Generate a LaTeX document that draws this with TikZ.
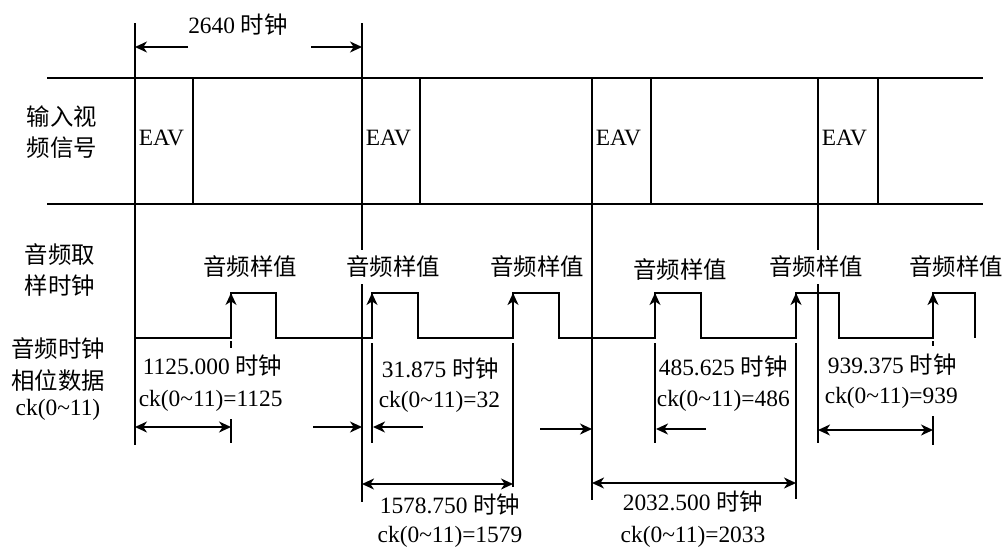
\documentclass[tikz,border=0pt]{standalone}
\usepackage{fontspec}
\setmainfont{Liberation Serif}
\newfontfamily\cjk{Noto Sans CJK SC}
\usetikzlibrary{arrows.meta}
\newcommand{\ckt}{ck(0\textasciitilde 11)}
\begin{document}
\begin{tikzpicture}[x=0.5pt,y=-0.5pt,line width=0.85pt,
  tipend/.style={-{Stealth[length=6pt,width=5.5pt,inset=1.8pt]}},
  dimboth/.style={{Stealth[length=6pt,width=5.5pt,inset=1.8pt]}-{Stealth[length=6pt,width=5.5pt,inset=1.8pt]}},
  txt/.style={font=\fontsize{11.7}{14}\selectfont,inner sep=1pt},
  cjktxt/.style={font=\fontsize{11.7}{15.5}\selectfont\cjk,inner sep=1pt,align=center},
  sample/.style={font=\fontsize{11.7}{14}\selectfont\cjk,fill=white,inner xsep=1pt,inner ysep=3pt},
]
\useasboundingbox (0,0) rectangle (1004,547);

% frame lines of the video signal
\coordinate (hl1a) at (47,78);  \coordinate (hl1b) at (983,78);
\coordinate (hl2a) at (47,204); \coordinate (hl2b) at (983,204);
\draw (hl1a) -- (hl1b);
\draw (hl2a) -- (hl2b);

% long vertical lines
\coordinate (v1t) at (135,23);  \coordinate (v1b) at (135,445);
\coordinate (v2t) at (362,23);  \coordinate (v2b) at (362,502);
\coordinate (v3t) at (592,78);  \coordinate (v3b) at (592,500);
\coordinate (v4t) at (818,78);  \coordinate (v4b) at (818,443);
\draw (v1t) -- (v1b);
\draw (v2t) -- (v2b);
\draw (v3t) -- (v3b);
\draw (v4t) -- (v4b);

% EAV right borders
\foreach \x/\n in {193/a,420/b,651/c,878/d}{
  \coordinate (e\n t) at (\x,78); \coordinate (e\n b) at (\x,204);
  \draw (e\n t) -- (e\n b);
}

% EAV labels
\node[txt,anchor=west] (eav1) at (136,138) {EAV};
\node[txt,anchor=west] (eav2) at (363,138) {EAV};
\node[txt,anchor=west] (eav3) at (593,138) {EAV};
\node[txt,anchor=west] (eav4) at (819,138) {EAV};

% 2640 clock dimension
\coordinate (d1a) at (188,47); \coordinate (d1b) at (311,47);
\draw[tipend] (d1a) -- (v1t |- d1a);
\draw[tipend] (d1b) -- (v2t |- d1b);
\node[txt] (t2640) at (238,25) {2640 {\cjk 时钟}};

% clock waveform
\draw (135,338) -- (231,338) -- (231,293) -- (276,293) -- (276,338)
  -- (372,338) -- (372,293) -- (418,293) -- (418,338)
  -- (513,338) -- (513,293) -- (559,293) -- (559,338)
  -- (655,338) -- (655,293) -- (701,293) -- (701,338)
  -- (796,338) -- (796,293) -- (839,293) -- (839,338)
  -- (933,338) -- (933,293) -- (975,293) -- (975,338);
\foreach \x in {231,372,513,655,796,933}{
  \draw[tipend] (\x,338) -- (\x,293);
}

% extension lines
\draw (231,341) -- (231,348);
\draw (231,419) -- (231,443);
\draw (933,341) -- (933,346);
\draw (933,416) -- (933,445);
\draw (372,343) -- (372,443);
\draw (513,343) -- (513,487);
\draw (655,343) -- (655,443);
\draw (796,343) -- (796,499);

% dimension arrows
\draw[dimboth] (135,427) -- (231,427);
\draw[tipend] (313,427) -- (362,427);
\draw[tipend] (423,427) -- (373,427);
\draw[dimboth] (362,484) -- (513,484);
\draw[tipend] (540,429) -- (592,429);
\draw[tipend] (706,429) -- (656,429);
\draw[dimboth] (592,483) -- (796,483);
\draw[dimboth] (818,430) -- (933,430);

% sample labels
\node[sample] (s1) at (250,267) {音频样值};
\node[sample] (s2) at (393,267) {音频样值};
\node[sample] (s3) at (537,267) {音频样值};
\node[sample] (s4) at (680,270) {音频样值};
\node[sample] (s5) at (816,267) {音频样值};
\node[sample] (s6) at (956,267) {音频样值};

% phase data labels
\node[txt,anchor=west] (p1a) at (140,366) {1125.000 {\cjk 时钟}};
\node[txt,anchor=west] (p1b) at (136,401) {\ckt=1125};
\node[txt,anchor=west] (p2a) at (379,369) {31.875 {\cjk 时钟}};
\node[txt,anchor=west] (p2b) at (376,402) {\ckt=32};
\node[txt,anchor=west] (p3a) at (656,367) {485.625 {\cjk 时钟}};
\node[txt,anchor=west] (p3b) at (654,401) {\ckt=486};
\node[txt,anchor=west] (p4a) at (825,365) {939.375 {\cjk 时钟}};
\node[txt,anchor=west] (p4b) at (822,398) {\ckt=939};
\node[txt] (q1a) at (450,505) {1578.750 {\cjk 时钟}};
\node[txt] (q1b) at (450,537) {\ckt=1579};
\node[txt] (q2a) at (693,502) {2032.500 {\cjk 时钟}};
\node[txt] (q2b) at (693,537) {\ckt=2033};

% row labels
\node[cjktxt] (r1) at (62,132) {输入视\\频信号};
\node[cjktxt] (r2) at (60,270) {音频取\\样时钟};
\node[cjktxt,font=\fontsize{11.7}{16}\selectfont\cjk] (r3) at (58,379) {音频时钟\\相位数据\\[-3pt]{\rmfamily\ckt}};
\end{tikzpicture}
\end{document}
